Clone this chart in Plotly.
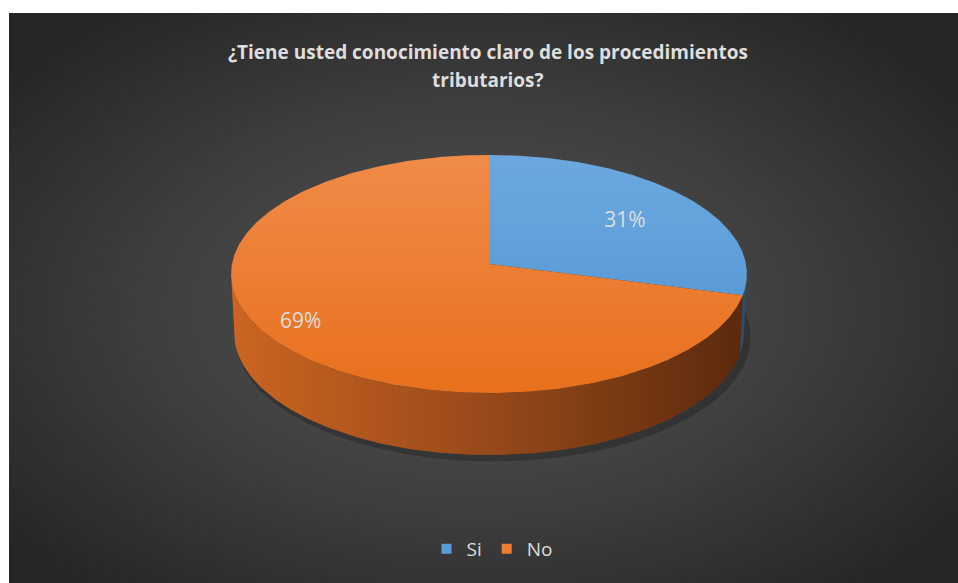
import base64
import numpy as np
import plotly.graph_objects as go

# ---------------- data ----------------
categories = ["Si", "No"]
values = [31, 69]
label_texts = ["31%", "69%"]
title_lines = ["¿Tiene usted conocimiento claro de los procedimientos", "tributarios?"]

# ---------------- style / geometry ----------------
W, H = 958, 583
CX, CY = 489, 264            # projected pie centre (px)
F = 2719.0                   # focal scale
D = 10.58                    # camera distance (radius units)
ALPHA = np.radians(27.4)     # tilt
THICK = 0.258                # pie thickness (radius units)
ASPECT = 1.48                # base elongation used for slice directions
LABEL_R = [0.66, 0.85]

top_colors = [
    [[0, "#6ba8df"], [1, "#4f93d2"]],
    [[0, "#f08b48"], [1, "#e8701d"]],
]
side_colors = [
    [[0, "#3f6f9c"], [1, "#2a4e70"]],
    [[0, "#cc6521"], [0.5, "#97491a"], [1, "#5a2a0c"]],
]
legend_colors = ["#5b9bd5", "#ed7d31"]
text_color = "#dedede"
FONT = "Open Sans"

sa, ca = np.sin(ALPHA), np.cos(ALPHA)


def project(phi, y3=0.0, r=1.0):
    X = r * np.sin(phi)
    Z = r * np.cos(phi)
    up = y3 * ca + Z * sa
    dist = D - y3 * sa + Z * ca
    return CX + F * X / dist, CY - F * up / dist


def to_param(theta):
    return np.mod(np.arctan2(np.sin(theta) * ASPECT, np.cos(theta)), 2 * np.pi)


fig = go.Figure()

fractions = np.array(values, dtype=float) / np.sum(values)
theta_b = np.concatenate([[0.0], np.cumsum(fractions)]) * 2 * np.pi
bounds = [to_param(t) for t in theta_b]
bounds[-1] = 2 * np.pi

phis_all = np.linspace(0, 2 * np.pi, 721)
ex, ey = project(phis_all)
x_left, x_right = ex.min(), ex.max()
y_top = ey.min()

phi_lo = np.arccos(-ca / D)
phi_hi = 2 * np.pi - phi_lo

# soft shadow under the pie
sx, sy = project(phis_all, -THICK, 1.01)
fig.add_trace(go.Scatter(x=sx + 4, y=sy + 5, fill="toself", mode="lines",
                         line=dict(width=0), fillcolor="rgba(0,0,0,0.22)",
                         hoverinfo="skip", showlegend=False))

# sides
for i in range(len(values)):
    a0 = max(bounds[i], phi_lo)
    a1 = min(bounds[i + 1], phi_hi)
    if a1 <= a0:
        continue
    ph = np.linspace(a0, a1, 200)
    tx, ty = project(ph, 0.0)
    bx, byy = project(ph[::-1], -THICK)
    fig.add_trace(go.Scatter(
        x=np.concatenate([tx, bx]), y=np.concatenate([ty, byy]),
        fill="toself", mode="lines", line=dict(width=0),
        fillgradient=dict(type="horizontal", colorscale=side_colors[i],
                          start=x_left, stop=x_right),
        hoverinfo="skip", showlegend=False))

# top faces
for i in range(len(values)):
    ph = np.linspace(bounds[i], bounds[i + 1], 300)
    tx, ty = project(ph, 0.0)
    xs = np.concatenate([[CX], tx, [CX]])
    ys = np.concatenate([[CY], ty, [CY]])
    fig.add_trace(go.Scatter(
        x=xs, y=ys, fill="toself", mode="lines", line=dict(width=0),
        fillgradient=dict(type="vertical", colorscale=top_colors[i],
                          start=y_top, stop=CY + 130),
        hoverinfo="skip", showlegend=False))

# labels
lx, ly = [], []
for i in range(len(values)):
    mid = (theta_b[i] + theta_b[i + 1]) / 2
    px, py = project(mid, 0.0, LABEL_R[i])
    lx.append(px)
    ly.append(py)
fig.add_trace(go.Scatter(x=lx, y=ly, mode="text", text=label_texts,
                         textfont=dict(family=FONT, size=21, color=text_color),
                         hoverinfo="skip", showlegend=False))

# legend entries
for i, c in enumerate(categories):
    fig.add_trace(go.Scatter(x=[None], y=[None], mode="markers", name=c,
                             marker=dict(symbol="square", size=10, color=legend_colors[i])))

# background (radial gradient)
BW, BH = W - 9 + 20, H - 13 + 20
svg = (f"<svg xmlns='http://www.w3.org/2000/svg' width='{BW}' height='{BH}' "
       f"viewBox='0 0 {BW} {BH}' preserveAspectRatio='none'>"
       "<defs><radialGradient id='g' cx='48%' cy='50%' r='62%'>"
       "<stop offset='0' stop-color='#545454'/>"
       "<stop offset='0.55' stop-color='#3e3e3e'/>"
       "<stop offset='1' stop-color='#262626'/>"
       "</radialGradient></defs>"
       f"<rect width='{BW}' height='{BH}' fill='url(#g)'/></svg>")
src = "data:image/svg+xml;base64," + base64.b64encode(svg.encode()).decode()

annotations = []
for j, line in enumerate(title_lines):
    annotations.append(dict(x=488, y=52 + 28 * j, xref="x", yref="y", text=line,
                            showarrow=False, xanchor="center", yanchor="middle",
                            font=dict(family=FONT, size=19, color=text_color, weight="bold")))

# white page border (top and left)
shapes = [
    dict(type="rect", xref="paper", yref="paper", x0=0, x1=1, y0=1 - 13 / H, y1=1,
         fillcolor="white", line=dict(width=0), layer="below"),
    dict(type="rect", xref="paper", yref="paper", x0=0, x1=9 / W, y0=0, y1=1,
         fillcolor="white", line=dict(width=0), layer="below"),
]

fig.update_layout(
    width=W, height=H,
    margin=dict(l=0, r=0, t=0, b=0),
    paper_bgcolor="#262626",
    plot_bgcolor="rgba(0,0,0,0)",
    xaxis=dict(range=[0, W], visible=False, fixedrange=True),
    yaxis=dict(range=[H, 0], visible=False, fixedrange=True),
    images=[dict(source=src, xref="paper", yref="paper", x=9 / W, y=1 - 13 / H,
                 sizex=BW / W, sizey=BH / H, xanchor="left", yanchor="top",
                 sizing="stretch", layer="below")],
    shapes=shapes,
    annotations=annotations,
    legend=dict(orientation="h", x=492 / W, xanchor="center", y=1 - 549 / H, yanchor="middle",
                font=dict(family=FONT, size=19, color=text_color),
                bgcolor="rgba(0,0,0,0)", itemwidth=30, tracegroupgap=0),
    showlegend=True,
)

fig.write_html(
    "out.html", config={"displayModeBar": False},
    post_script=("document.documentElement.style.overflow='hidden';"
                 "document.body.style.margin='0';document.body.style.overflow='hidden';"
                 "document.body.style.background='#262626';"))
